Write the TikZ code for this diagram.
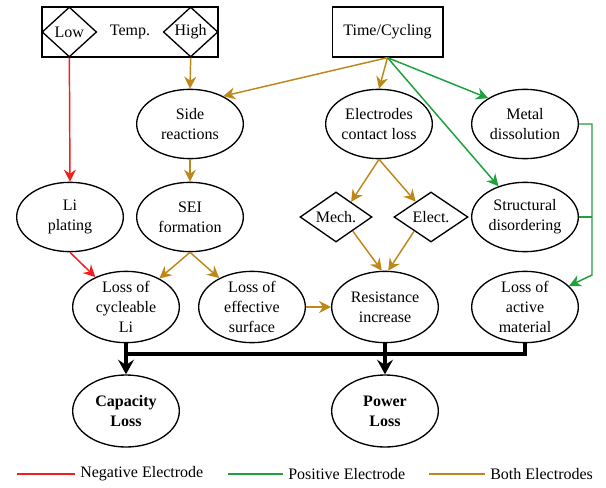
\documentclass[tikz,border=0pt]{standalone}
\usepackage{fontspec}
\setmainfont{Liberation Serif}
\usepackage{xcolor}
\usetikzlibrary{arrows.meta,positioning,shapes.geometric,calc}
\definecolor{negred}{RGB}{240,30,30}
\definecolor{posgreen}{RGB}{30,160,60}
\definecolor{bothbrown}{RGB}{190,135,25}

\begin{document}
\begin{tikzpicture}[
  x=0.75pt, y=-0.75pt,
  font=\fontsize{12}{15}\selectfont,
  oval/.style={draw, line width=1pt, ellipse, inner sep=-10pt, align=center,
               minimum width=80pt, minimum height=52pt},
  ovalthree/.style={oval, minimum height=53.5pt},
  dia/.style={draw, line width=1pt, diamond, inner sep=-10pt, align=center,
              minimum width=54pt, minimum height=37.5pt},
  box/.style={draw, line width=1pt, rectangle, align=center, minimum height=37.5pt},
  legtext/.style={anchor=west, inner sep=3.75pt},
  tip/.style={-{Stealth[length=9pt, width=9pt, inset=3pt]}},
  negline/.style={negred, line width=1.1pt},
  posline/.style={posgreen, line width=1.1pt},
  bothline/.style={bothbrown, line width=1.1pt},
  negarrow/.style={negline, tip},
  posarrow/.style={posline, tip},
  botharrow/.style={bothline, tip},
  busline/.style={line width=3pt, line join=miter},
  bigarrow/.style={busline, -{Stealth[length=11pt, width=12pt, inset=4pt]}}
]
\useasboundingbox (0,0) rectangle (606,488);

% causes
\node[box, minimum width=132pt] (temp) at (130,32) {Temp.};
\node[dia, minimum width=41pt, anchor=west] (low) at (temp.west) {Low};
\node[dia, minimum width=41pt, anchor=east] (high) at (temp.east) {High};
\node[box, minimum width=83pt] (time) at (387.5,32) {Time/Cycling};

% mechanisms
\node[oval] (side) at (190,124) {Side\\reactions};
\node[oval] (contact) at (379,124) {Electrodes\\contact loss};
\node[oval] (metal) at (525,124) {Metal\\dissolution};
\node[oval] (liplat) at (70,217) {Li\\plating};
\node[oval] (sei) at (190,217) {SEI\\formation};
\node[dia] (mech) at (336,217) {Mech.};
\node[dia, minimum width=55.5pt] (elect) at (431,217) {Elect.};
\node[oval] (struct) at (525,217) {Structural\\disordering};

% modes
\node[ovalthree] (losscyc) at (126,307) {Loss of\\cycleable\\Li};
\node[ovalthree] (losseff) at (252,307) {Loss of\\effective\\surface};
\node[ovalthree] (resist) at (385,307) {Resistance\\increase};
\node[ovalthree] (lossact) at (525,307) {Loss of\\active\\material};

% effects
\node[oval, minimum height=54pt, font=\fontsize{12}{15}\selectfont\bfseries] (capacity) at (126,411) {Capacity\\Loss};
\node[oval, minimum height=54pt, font=\fontsize{12}{15}\selectfont\bfseries] (power) at (385,411) {Power\\Loss};

% negative electrode
\draw[negarrow] (low.south) -- (liplat.north);
\draw[negarrow] (liplat.south) -- (losscyc);

% both electrodes
\draw[botharrow] (high.south) -- (side.north);
\draw[botharrow] (time.south) -- (side.40);
\draw[botharrow] (time.south) -- (contact.north);
\draw[botharrow] (side.south) -- (sei.north);
\draw[botharrow] (sei.south) -- (losscyc);
\draw[botharrow] (sei.south) -- (losseff);
\draw[botharrow] (losseff.east) -- (resist.west);
\draw[botharrow] (contact.south) -- (mech.45);
\draw[botharrow] (contact.south) -- (elect.135);
\draw[botharrow] (mech.-40) -- (resist.95);
\draw[botharrow] (elect.-140) -- (resist.85);

% positive electrode
\coordinate (gturn) at (592,275);
\draw[posarrow] (time.south) -- (metal.145);
\draw[posarrow] (time.south) -- (struct);
\draw[posarrow] (metal.east) -| (gturn) -- (lossact);
\draw[posline] (struct.east) -- (struct.east -| gturn);

% losses
\coordinate (bus) at (0,354);
\draw[bigarrow] (losscyc.south) -- (capacity.north);
\draw[bigarrow] (resist.south) -- (power.north);
\draw[busline] (losscyc.south |- bus) -- (lossact.south |- bus) -- (lossact.south);

% legend
\coordinate (negA) at (17,474);
\node[legtext] (negtxt) at (75,474) {Negative Electrode};
\draw[negline] (negA) -- (negtxt.west);
\coordinate (posA) at (228,474);
\node[legtext] (postxt) at (283,474) {Positive Electrode};
\draw[posline] (posA) -- (postxt.west);
\coordinate (bothA) at (429,474);
\node[legtext] (bothtxt) at (485,474) {Both Electrodes};
\draw[bothline] (bothA) -- (bothtxt.west);
\end{tikzpicture}
\end{document}
